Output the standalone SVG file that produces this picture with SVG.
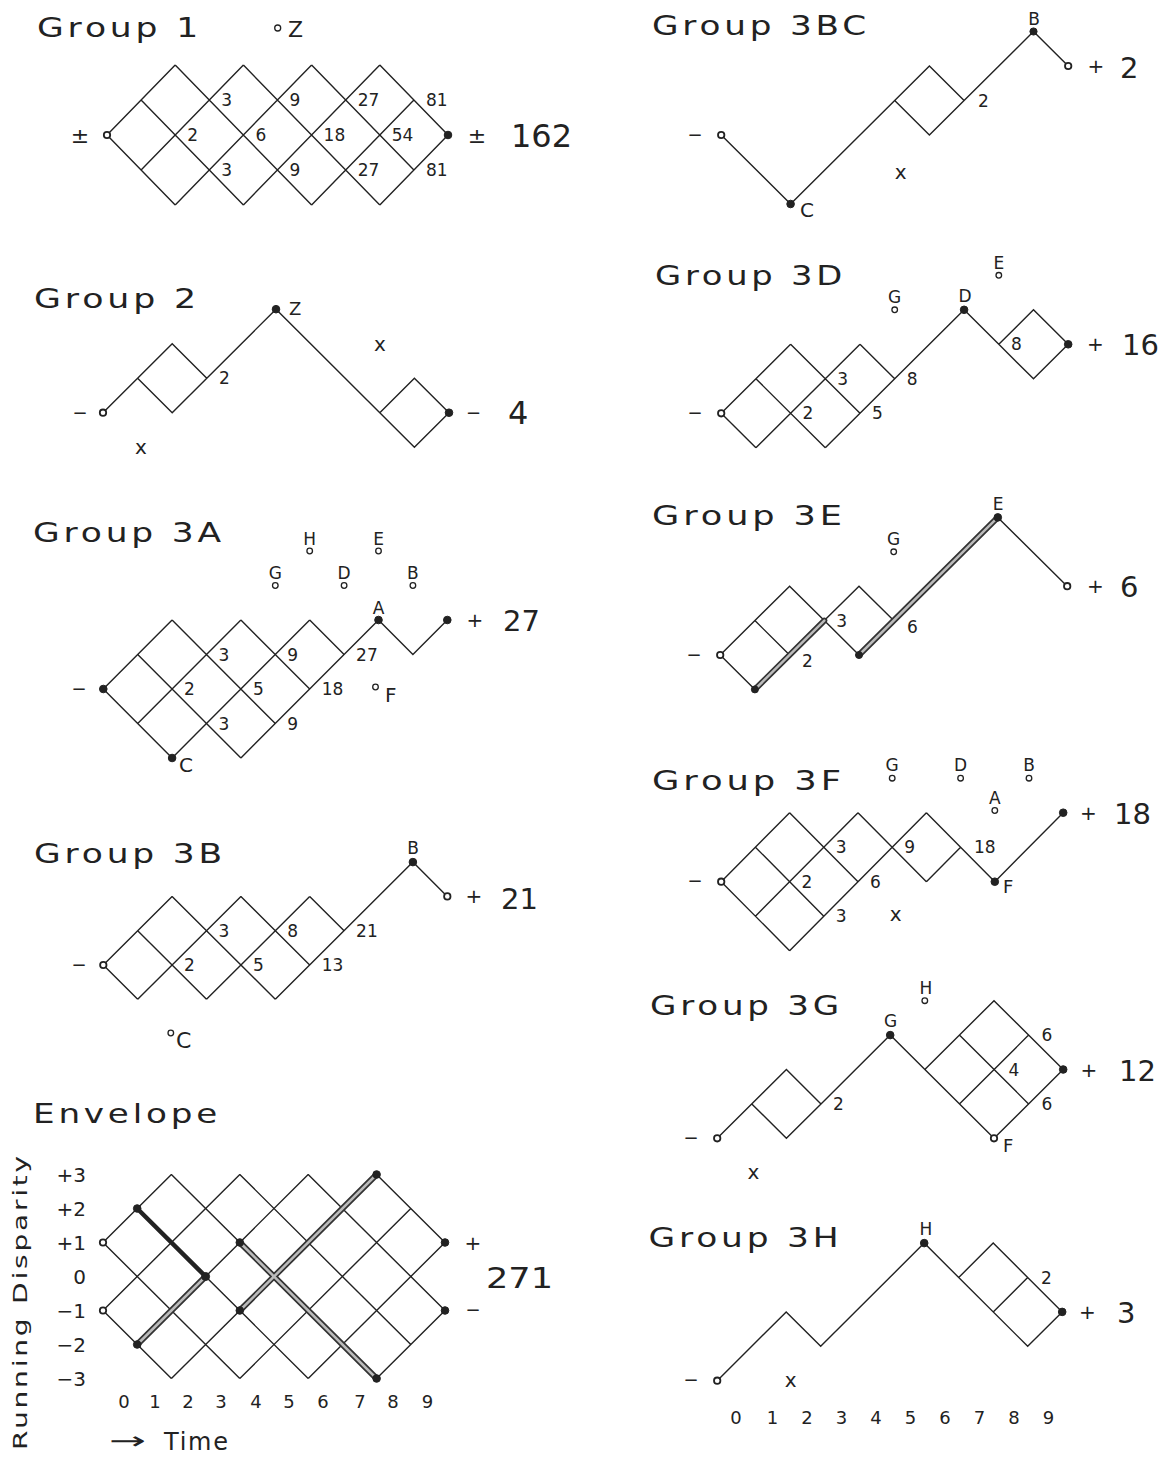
<svg xmlns="http://www.w3.org/2000/svg" width="1168" height="1459" viewBox="0 0 1168 1459">
<style>
text{font-family:"DejaVu Sans","Liberation Sans",sans-serif;fill:#222}
.t{font-size:27px;letter-spacing:3px}
.n{font-size:17px}
.L{font-size:17px;text-anchor:middle}
.big{font-size:29px}
.s{font-size:20px;text-anchor:middle}
.ax{font-size:20px;text-anchor:end}
.xl{font-size:18px;text-anchor:middle}
.ln{fill:none;stroke:#222;stroke-width:1.4;stroke-linejoin:miter}
.thk{fill:none;stroke:#333;stroke-width:6;stroke-linecap:round}
.thki{fill:none;stroke:#bbb;stroke-width:2.5;stroke-linecap:round}
.blk{fill:none;stroke:#222;stroke-width:4.5;stroke-linecap:round}
.o{fill:#fff;stroke:#222;stroke-width:1.8}
.f{fill:#222;stroke:#222;stroke-width:1}
.c{fill:#fff;stroke:#222;stroke-width:1.3}
</style>
<rect width="1168" height="1459" fill="#fff"/>

<!-- Group 1 -->
<g id="group1">
<text class="t" x="37" y="37" textLength="165" lengthAdjust="spacingAndGlyphs">Group 1</text>
<circle class="c" cx="277.7" cy="28" r="3"/><text x="288" y="37" style="font-size:22px">Z</text>
<g id="group1-lines"><path class="ln" d="M107,135 L175.2,65 M141.1,170 L243.4,65 M175.2,205 L311.6,65 M243.4,205 L379.8,65 M311.6,205 L413.9,100 M379.8,205 L448,135 M107,135 L175.2,205 M141.1,100 L243.4,205 M175.2,65 L311.6,205 M243.4,65 L379.8,205 M311.6,65 L413.9,170 M379.8,65 L448,135"/></g>
<text class="n" x="221.3" y="106">3</text><text class="n" x="289.5" y="106">9</text><text class="n" x="357.7" y="106">27</text><text class="n" x="425.9" y="106">81</text>
<text class="n" x="187.2" y="141">2</text><text class="n" x="255.4" y="141">6</text><text class="n" x="323.6" y="141">18</text><text class="n" x="391.8" y="141">54</text>
<text class="n" x="221.3" y="176">3</text><text class="n" x="289.5" y="176">9</text><text class="n" x="357.7" y="176">27</text><text class="n" x="425.9" y="176">81</text>
<circle class="o" cx="107" cy="135" r="3.2"/><circle class="f" cx="448" cy="135" r="3.8"/>
<text class="s" x="80" y="143" style="font-size:22px">±</text>
<text class="s" x="477" y="143" style="font-size:22px">±</text>
<text x="511" y="147" style="font-size:32px">162</text>
</g>

<!-- Group 2 -->
<g id="group2">
<text class="t" x="34" y="308" textLength="166" lengthAdjust="spacingAndGlyphs">Group 2</text>
<g id="group2-lines"><path class="ln" d="M103,412.7 L172.2,343.7 L206.8,378.2 L276,309.2 L379.8,412.7 L414.4,378.2 L449,412.7 L414.4,447.2 L379.8,412.7 M137.6,378.2 L172.2,412.7 L206.8,378.2"/></g>
<text class="n" x="219" y="384.2">2</text>
<circle class="f" cx="276" cy="309.2" r="3.8"/><text x="289" y="315" style="font-size:18px">Z</text>
<text class="s" x="141" y="453.5">x</text><text class="s" x="380" y="350.5">x</text>
<circle class="o" cx="103" cy="412.7" r="3.2"/><circle class="f" cx="449" cy="412.7" r="3.8"/>
<text class="s" x="80" y="418.5" style="font-size:18px">−</text>
<text class="s" x="473.5" y="418.5" style="font-size:18px">−</text>
<text x="508" y="424" style="font-size:32px">4</text>
</g>

<!-- Group 3A -->
<g id="group3a">
<text class="t" x="33" y="541.7" textLength="192" lengthAdjust="spacingAndGlyphs">Group 3A</text>
<g id="group3a-lines"><path class="ln" d="M103.3,689 L172.1,620 M137.7,723.5 L240.9,620 M172.1,758 L309.7,620 M240.9,758 L378.5,620 M103.3,689 L172.1,758 M137.7,654.5 L240.9,758 M172.1,620 L275.3,723.5 M240.9,620 L309.7,689 M309.7,620 L344.1,654.5 M378.5,620 L412.9,654.5 L447.3,620"/></g>
<text class="n" x="218.5" y="660.5">3</text><text class="n" x="287.3" y="660.5">9</text><text class="n" x="356.1" y="660.5">27</text>
<text class="n" x="184.1" y="695">2</text><text class="n" x="252.9" y="695">5</text><text class="n" x="321.7" y="695">18</text>
<text class="n" x="218.5" y="729.5">3</text><text class="n" x="287.3" y="729.5">9</text>
<circle class="c" cx="275.3" cy="585.5" r="2.8"/><text class="L" x="275.3" y="579">G</text>
<circle class="c" cx="344.1" cy="585.5" r="2.8"/><text class="L" x="344.1" y="579">D</text>
<circle class="c" cx="412.9" cy="585.5" r="2.8"/><text class="L" x="412.9" y="579">B</text>
<circle class="c" cx="309.7" cy="551" r="2.8"/><text class="L" x="309.7" y="544.5">H</text>
<circle class="c" cx="378.5" cy="551" r="2.8"/><text class="L" x="378.5" y="544.5">E</text>
<circle class="f" cx="378.5" cy="620" r="3.8"/><text class="L" x="378.5" y="614">A</text>
<circle class="c" cx="375.5" cy="687" r="2.8"/><text x="385" y="702" style="font-size:20px">F</text>
<circle class="f" cx="172.1" cy="758" r="3.8"/><text x="179" y="772" style="font-size:20px">C</text>
<circle class="f" cx="103.3" cy="689" r="3.8"/><circle class="f" cx="447.3" cy="620" r="3.8"/>
<text class="s" x="79" y="694.5" style="font-size:18px">−</text>
<text class="s" x="475" y="627">+</text>
<text class="big" x="503" y="630.5">27</text>
</g>

<!-- Group 3B -->
<g id="group3b">
<text class="t" x="34" y="863" textLength="192" lengthAdjust="spacingAndGlyphs">Group 3B</text>
<g id="group3b-lines"><path class="ln" d="M103.3,965 L172.1,896.4 M137.7,999.3 L240.9,896.4 M206.5,999.3 L309.7,896.4 M275.3,999.3 L412.9,862.1 M103.3,965 L137.7,999.3 M137.7,930.7 L206.5,999.3 M172.1,896.4 L275.3,999.3 M240.9,896.4 L309.7,965 M309.7,896.4 L344.1,930.7 M412.9,862.1 L447.3,896.4"/></g>
<text class="n" x="218.5" y="936.7">3</text><text class="n" x="287.3" y="936.7">8</text><text class="n" x="356.1" y="936.7">21</text>
<text class="n" x="184.1" y="971">2</text><text class="n" x="252.9" y="971">5</text><text class="n" x="321.7" y="971">13</text>
<circle class="f" cx="412.9" cy="862.1" r="3.8"/><text class="L" x="413" y="854">B</text>
<circle class="c" cx="170.8" cy="1033" r="2.8"/><text x="176" y="1048" style="font-size:22px">C</text>
<circle class="o" cx="103.3" cy="965" r="3.2"/><circle class="o" cx="447.3" cy="896.4" r="3.2"/>
<text class="s" x="79" y="970.5" style="font-size:18px">−</text>
<text class="s" x="474" y="903">+</text>
<text class="big" x="501" y="908.5">21</text>
</g>

<!-- Envelope -->
<g id="envelope">
<text class="t" x="33" y="1123" textLength="188" lengthAdjust="spacingAndGlyphs">Envelope</text>
<text transform="translate(27,1450) rotate(-90)" style="font-size:20px;letter-spacing:2px" textLength="297" lengthAdjust="spacingAndGlyphs">Running Disparity</text>
<g id="envelope-lines"><path class="ln" d="M103,1242.5 L171.4,1174.5 M103,1310.5 L239.8,1174.5 M137.2,1344.5 L308.2,1174.5 M171.4,1378.5 L376.6,1174.5 M239.8,1378.5 L410.8,1208.5 M308.2,1378.5 L445,1242.5 M376.6,1378.5 L445,1310.5 M103,1242.5 L239.8,1378.5 M103,1310.5 L171.4,1378.5 M137.2,1208.5 L308.2,1378.5 M171.4,1174.5 L376.6,1378.5 M239.8,1174.5 L410.8,1344.5 M308.2,1174.5 L445,1310.5 M376.6,1174.5 L445,1242.5"/>
<path class="thk" d="M137.2,1344.5 L205.6,1276.5 M239.8,1242.5 L376.6,1378.5 M239.8,1310.5 L376.6,1174.5"/>
<path class="thki" d="M137.2,1344.5 L205.6,1276.5 M239.8,1242.5 L376.6,1378.5 M239.8,1310.5 L376.6,1174.5"/>
<path class="blk" d="M137.2,1208.5 L205.6,1276.5"/></g>
<circle class="o" cx="103" cy="1242.5" r="3.2"/><circle class="o" cx="103" cy="1310.5" r="3.2"/>
<circle class="f" cx="137.2" cy="1208.5" r="3.8"/><circle class="f" cx="137.2" cy="1344.5" r="3.8"/><circle class="f" cx="205.6" cy="1276.5" r="4"/>
<circle class="f" cx="239.8" cy="1242.5" r="3.8"/><circle class="f" cx="239.8" cy="1310.5" r="3.8"/>
<circle class="f" cx="376.6" cy="1174.5" r="3.8"/><circle class="f" cx="376.6" cy="1378.5" r="3.8"/>
<circle class="f" cx="445" cy="1242.5" r="3.8"/><circle class="f" cx="445" cy="1310.5" r="3.8"/>
<text class="ax" x="86" y="1181.5">+3</text><text class="ax" x="86" y="1215.5">+2</text><text class="ax" x="86" y="1249.5">+1</text><text class="ax" x="86" y="1283.5">0</text><text class="ax" x="86" y="1317.5">−1</text><text class="ax" x="86" y="1351.5">−2</text><text class="ax" x="86" y="1385.5">−3</text>
<text class="xl" x="124" y="1408">0</text><text class="xl" x="155" y="1408">1</text><text class="xl" x="188" y="1408">2</text><text class="xl" x="221" y="1408">3</text><text class="xl" x="256" y="1408">4</text><text class="xl" x="289" y="1408">5</text><text class="xl" x="323" y="1408">6</text><text class="xl" x="360" y="1408">7</text><text class="xl" x="393" y="1408">8</text><text class="xl" x="427.5" y="1408">9</text>
<text class="s" x="473" y="1249.5">+</text><text class="s" x="473" y="1316" style="font-size:18px">−</text>
<text x="486" y="1288" style="font-size:29px" textLength="67" lengthAdjust="spacingAndGlyphs">271</text>
<text x="109" y="1449" style="font-size:24px" textLength="37" lengthAdjust="spacingAndGlyphs">→</text>
<text x="164" y="1450" style="font-size:24px" textLength="64" lengthAdjust="spacing">Time</text>
</g>

<!-- Group 3BC -->
<g id="group3bc">
<text class="t" x="652" y="35" textLength="218" lengthAdjust="spacingAndGlyphs">Group 3BC</text>
<g id="group3bc-lines"><path class="ln" d="M721.2,135 L790.6,204 L894.7,100.5 L929.4,66 L964.1,100.5 L929.4,135 L894.7,100.5 M964.1,100.5 L1033.5,31.5 L1068.2,66"/></g>
<text class="n" x="978" y="106.5">2</text>
<text class="s" x="900.6" y="178.5">x</text>
<circle class="f" cx="790.6" cy="204" r="3.8"/><text x="800" y="217" style="font-size:20px">C</text>
<circle class="f" cx="1033.5" cy="31.5" r="3.6"/><text class="L" x="1034" y="25">B</text>
<circle class="o" cx="721.2" cy="135" r="3.2"/><circle class="o" cx="1068.2" cy="66" r="3.2"/>
<text class="s" x="695" y="140.5" style="font-size:18px">−</text>
<text class="s" x="1096" y="73">+</text>
<text class="big" x="1120" y="78">2</text>
</g>

<!-- Group 3D -->
<g id="group3d">
<text class="t" x="655" y="285" textLength="191" lengthAdjust="spacingAndGlyphs">Group 3D</text>
<g id="group3d-lines"><path class="ln" d="M721.2,413.3 L790.6,344.3 M755.9,447.8 L860,344.3 M825.3,447.8 L964.1,309.8 M721.2,413.3 L755.9,447.8 M755.9,378.8 L825.3,447.8 M790.6,344.3 L860,413.3 M860,344.3 L894.7,378.8 M964.1,309.8 L998.8,344.3 L1033.5,309.8 L1068.2,344.3 L1033.5,378.8 L998.8,344.3"/></g>
<text class="n" x="837.3" y="384.8">3</text><text class="n" x="906.7" y="384.8">8</text>
<text class="n" x="802.6" y="419.3">2</text><text class="n" x="872" y="419.3">5</text>
<text class="n" x="1011" y="350.3">8</text>
<circle class="c" cx="894.7" cy="309.8" r="2.8"/><text class="L" x="894.7" y="303">G</text>
<circle class="f" cx="964.1" cy="309.8" r="3.8"/><text class="L" x="965" y="302">D</text>
<circle class="c" cx="998.8" cy="275.3" r="2.8"/><text class="L" x="998.8" y="268.5">E</text>
<circle class="o" cx="721.2" cy="413.3" r="3.2"/><circle class="f" cx="1068.2" cy="344.3" r="3.8"/>
<text class="s" x="695" y="418.8" style="font-size:18px">−</text>
<text class="s" x="1095.5" y="351">+</text>
<text class="big" x="1122" y="355">16</text>
</g>

<!-- Group 3E -->
<g id="group3e">
<text class="t" x="652" y="525" textLength="194" lengthAdjust="spacingAndGlyphs">Group 3E</text>
<g id="group3e-lines"><path class="ln" d="M720.2,655 L789.6,586.2 L824.3,620.6 L859,586.2 L893.7,620.6 M754.9,620.6 L789.6,655 M720.2,655 L754.9,689.4 M824.3,620.6 L859,655 M997.8,517.4 L1067.2,586.2"/>
<path class="thk" d="M754.9,689.4 L824.3,620.6 M859,655 L997.8,517.4"/>
<path class="thki" d="M754.9,689.4 L824.3,620.6 M859,655 L997.8,517.4"/></g>
<text class="n" x="836.3" y="626.6">3</text><text class="n" x="802" y="667">2</text><text class="n" x="907" y="633">6</text>
<circle class="c" cx="893.7" cy="551.8" r="2.8"/><text class="L" x="893.7" y="545">G</text>
<circle class="f" cx="997.8" cy="517.4" r="3.8"/><text class="L" x="998" y="510">E</text>
<circle class="f" cx="754.9" cy="689.4" r="3.5"/><circle class="f" cx="859" cy="655" r="3.5"/>
<circle class="o" cx="720.2" cy="655" r="3.2"/><circle class="o" cx="1067.2" cy="586.2" r="3.2"/>
<text class="s" x="694" y="660.5" style="font-size:18px">−</text>
<text class="s" x="1095.5" y="593">+</text>
<text class="big" x="1120" y="597">6</text>
</g>

<!-- Group 3F -->
<g id="group3f">
<text class="t" x="652" y="790" textLength="193" lengthAdjust="spacingAndGlyphs">Group 3F</text>
<g id="group3f-lines"><path class="ln" d="M721.2,881.7 L789.6,812.7 M755.4,916.2 L858,812.7 M789.6,950.7 L926.4,812.7 M926.4,881.7 L960.6,847.2 M994.8,881.7 L1063.2,812.7 M721.2,881.7 L789.6,950.7 M755.4,847.2 L823.8,916.2 M789.6,812.7 L858,881.7 M858,812.7 L926.4,881.7 M926.4,812.7 L994.8,881.7"/></g>
<text class="n" x="835.8" y="853.2">3</text><text class="n" x="904.2" y="853.2">9</text><text class="n" x="974" y="853.2">18</text>
<text class="n" x="801.6" y="887.7">2</text><text class="n" x="870" y="887.7">6</text><text class="n" x="835.8" y="922.2">3</text>
<text class="s" x="895.6" y="920.5">x</text>
<circle class="c" cx="892.2" cy="778.2" r="2.8"/><text class="L" x="892.2" y="771">G</text>
<circle class="c" cx="960.6" cy="778.2" r="2.8"/><text class="L" x="960.6" y="771">D</text>
<circle class="c" cx="1029" cy="778.2" r="2.8"/><text class="L" x="1029" y="771">B</text>
<circle class="c" cx="994.8" cy="810.5" r="2.8"/><text class="L" x="994.8" y="804">A</text>
<circle class="f" cx="994.8" cy="881.7" r="3.8"/><text x="1003" y="893" style="font-size:18px">F</text>
<circle class="o" cx="721.2" cy="881.7" r="3.2"/><circle class="f" cx="1063.2" cy="812.7" r="3.8"/>
<text class="s" x="695" y="887.2" style="font-size:18px">−</text>
<text class="s" x="1088.5" y="819.5">+</text>
<text class="big" x="1114" y="823.5">18</text>
</g>

<!-- Group 3G -->
<g id="group3g">
<text class="t" x="650" y="1015" textLength="193" lengthAdjust="spacingAndGlyphs">Group 3G</text>
<g id="group3g-lines"><path class="ln" d="M717.2,1138.3 L786.4,1069.5 L821,1103.9 L890.2,1035.1 L994,1138.3 L1063.2,1069.5 L994,1000.7 L924.8,1069.5 M751.8,1103.9 L786.4,1138.3 L821,1103.9 M959.4,1035.1 L1028.6,1103.9 M959.4,1103.9 L1028.6,1035.1"/></g>
<text class="n" x="833" y="1109.9">2</text><text class="n" x="1041.5" y="1041.1">6</text><text class="n" x="1008.5" y="1075.5">4</text><text class="n" x="1041.5" y="1109.9">6</text>
<circle class="f" cx="890.2" cy="1035.1" r="3.8"/><text class="L" x="890.5" y="1027">G</text>
<circle class="c" cx="924.8" cy="1000.7" r="2.8"/><text class="L" x="926" y="994">H</text>
<circle class="o" cx="994" cy="1138.3" r="3.2"/><text x="1003" y="1152" style="font-size:18px">F</text>
<text class="s" x="753.4" y="1178.8">x</text>
<circle class="o" cx="717.2" cy="1138.3" r="3.2"/><circle class="f" cx="1063.2" cy="1069.5" r="3.8"/>
<text class="s" x="691" y="1143.8" style="font-size:18px">−</text>
<text class="s" x="1089" y="1076.5">+</text>
<text class="big" x="1119" y="1080.5">12</text>
</g>

<!-- Group 3H -->
<g id="group3h">
<text class="t" x="648.5" y="1246.7" textLength="194" lengthAdjust="spacingAndGlyphs">Group 3H</text>
<g id="group3h-lines"><path class="ln" d="M717.2,1380.7 L786.2,1311.9 L820.7,1346.3 L924.2,1243.1 L1027.7,1346.3 L1062.2,1311.9 L993.2,1243.1 L958.7,1277.5 M993.2,1311.9 L1027.7,1277.5"/></g>
<text class="n" x="1041" y="1283.5">2</text>
<circle class="f" cx="924.2" cy="1243.1" r="3.8"/><text class="L" x="926" y="1235">H</text>
<text class="s" x="790.6" y="1387">x</text>
<circle class="o" cx="717.2" cy="1380.7" r="3.2"/><circle class="f" cx="1062.2" cy="1311.9" r="3.8"/>
<text class="s" x="691" y="1386.2" style="font-size:18px">−</text>
<text class="s" x="1087.5" y="1318.5">+</text>
<text class="big" x="1117" y="1323">3</text>
<text class="xl" x="736" y="1424">0</text><text class="xl" x="772.5" y="1424">1</text><text class="xl" x="807" y="1424">2</text><text class="xl" x="841.5" y="1424">3</text><text class="xl" x="876" y="1424">4</text><text class="xl" x="910.5" y="1424">5</text><text class="xl" x="945" y="1424">6</text><text class="xl" x="979.5" y="1424">7</text><text class="xl" x="1014" y="1424">8</text><text class="xl" x="1048.5" y="1424">9</text>
</g>
</svg>
